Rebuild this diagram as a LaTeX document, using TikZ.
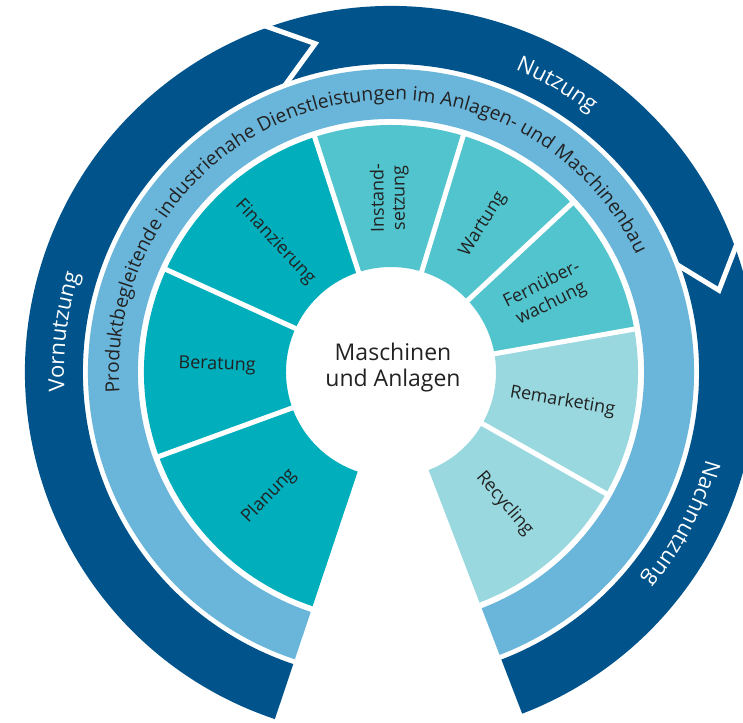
\documentclass[tikz,border=0pt]{standalone}
\usepackage{fontspec}
\setmainfont{Open Sans}
\usetikzlibrary{decorations.text}

\definecolor{ringdark}{HTML}{00548B}
\definecolor{ringlight}{HTML}{6AB6DB}
\definecolor{tealdark}{HTML}{00AEBC}
\definecolor{tealmid}{HTML}{52C4CD}
\definecolor{tealpale}{HTML}{99D8DF}
\definecolor{textdark}{HTML}{222222}

\begin{document}
\begin{tikzpicture}[x=1pt, y=1pt,
  gap/.style={white, line width=5pt},
  seglabel/.style={text=textdark, font=\fontsize{18}{21}\selectfont, align=center}]
\useasboundingbox (-391,-350) rectangle (352,372);
\clip (-391,-350) rectangle (352,372);

% outer ring: Vornutzung, Nutzung, Nachnutzung
\fill[ringdark] (-69:308) arc[start angle=-69, end angle=251.5, radius=308]
  -- (251.5:366) arc[start angle=251.5, end angle=-69, radius=366] -- cycle;
\draw[gap, line join=miter] (110.5:371) -- (103:337) -- (110.5:305);
\draw[gap, line join=miter] (20.7:371) -- (14:338) -- (20.7:305);
\path[decorate, decoration={text along path, text align=center,
  text={|\color{white}\fontsize{22}{24}\selectfont|Vornutzung}}]
  (203:327) arc[start angle=203, end angle=143, radius=327];
\path[decorate, decoration={text along path, text align=center,
  text={|\color{white}\fontsize{22}{24}\selectfont|Nutzung}}]
  (90:327) arc[start angle=90, end angle=30, radius=327];
\path[decorate, decoration={text along path, text align=center,
  text={|\color{white}\fontsize{22}{24}\selectfont|Nachnutzung}}]
  (0:327) arc[start angle=0, end angle=-55, radius=327];

% middle ring with the curved title
\fill[ringlight] (-69:253) arc[start angle=-69, end angle=251.5, radius=253]
  -- (251.5:303) arc[start angle=251.5, end angle=-69, radius=303] -- cycle;
\path[decorate, decoration={text along path, text align=center,
  text={|\color{textdark}\fontsize{19.3}{21}\selectfont|Produktbegleitende industrienahe Dienstleistungen im Anlagen- und Maschinenbau}}]
  (188:272) arc[start angle=188, end angle=22, radius=272];

% service segments
\fill[tealpale] (-69:105) arc[start angle=-69, end angle=10, radius=105]
  -- (10:247) arc[start angle=10, end angle=-69, radius=247] -- cycle;
\fill[tealmid] (10:105) arc[start angle=10, end angle=108, radius=105]
  -- (108:247) arc[start angle=108, end angle=10, radius=247] -- cycle;
\fill[tealdark] (108:105) arc[start angle=108, end angle=251.5, radius=105]
  -- (251.5:247) arc[start angle=251.5, end angle=108, radius=247] -- cycle;
\draw[gap] (200:100) -- (200:250);
\draw[gap] (155.5:100) -- (155.5:250);
\draw[gap] (108:100) -- (108:250);
\draw[gap] (73:100) -- (73:250);
\draw[gap] (43:100) -- (43:250);
\draw[gap] (10:100) -- (10:250);
\draw[gap] (-29.5:100) -- (-29.5:250);

\node[seglabel, rotate=45.5] (planung) at (225.5:174) {Planung};
\node[seglabel, rotate=-2] (beratung) at (177.75:174) {Beratung};
\node[seglabel, rotate=-47] (finanzierung) at (131.75:174) {Finanzierung};
\node[seglabel, rotate=90.5] (instandsetzung) at (90.5:174) {Instand-\\setzung};
\node[seglabel, rotate=58] (wartung) at (58:174) {Wartung};
\node[seglabel, rotate=26.5] (fernueberwachung) at (26.5:174) {Fernüber-\\wachung};
\node[seglabel, rotate=-9.75] (remarketing) at (-9.75:174) {Remarketing};
\node[seglabel, rotate=-49.25] (recycling) at (-49.25:174) {Recycling};

% centre
\node[text=textdark, font=\fontsize{23}{26}\selectfont, align=center] (anlagen) at (2,4) {Maschinen\\und Anlagen};
\end{tikzpicture}
\end{document}
